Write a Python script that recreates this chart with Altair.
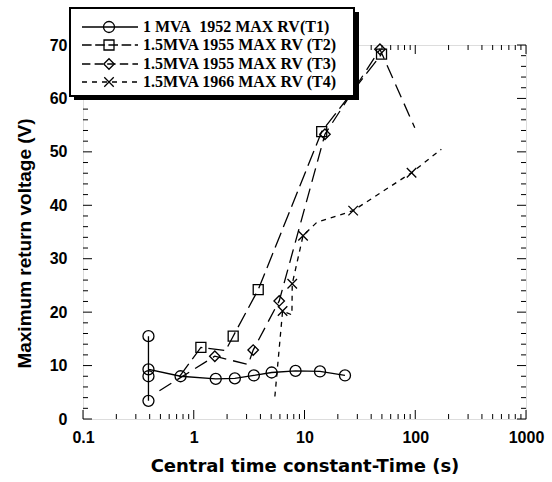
import altair as alt
import pandas as pd

# ---------------- data ----------------
# T1: 1 MVA 1952 (circles, solid)
t1_x = [0.39, 0.39, 0.39, 0.39, 0.76, 1.58, 2.35, 3.49, 5.05, 8.3, 13.8, 23.2]
t1_y = [15.5, 3.4, 8.0, 9.3, 8.0, 7.5, 7.6, 8.15, 8.7, 9.0, 8.9, 8.15]
t1_m = [1, 1, 1, 1, 1, 1, 1, 1, 1, 1, 1, 1]

# T2: 1.5MVA 1955 (squares, long dash)
t2_x = [0.74, 1.16, 1.94, 2.27, 3.82, 14.3, 49.6]
t2_y = [7.9, 13.4, 12.8, 15.5, 24.2, 53.8, 68.3]
t2_m = [0, 1, 0, 1, 1, 1, 1]

# T3: 1.5MVA 1955 (diamonds, long dash)
t3_x = [0.49, 1.55, 3.1, 3.44, 5.91, 15.3, 48.0, 99.0]
t3_y = [5.3, 11.75, 10.2, 12.9, 22.1, 53.3, 69.2, 54.5]
t3_m = [0, 1, 0, 1, 1, 1, 1, 0]

# T4: 1.5MVA 1966 (crosses, short dash)
t4_x = [5.4, 6.34, 7.7, 7.75, 9.7, 12.9, 27.5, 92.6, 172.0]
t4_y = [4.2, 20.2, 19.5, 25.3, 34.3, 36.8, 39.0, 46.1, 50.5]
t4_m = [0, 1, 0, 1, 1, 0, 1, 1, 0]

legend_labels = [
    "1 MVA\u00a0 1952 MAX RV(T1)",
    "1.5MVA 1955 MAX RV (T2)",
    "1.5MVA 1955 MAX RV (T3)",
    "1.5MVA 1966 MAX RV (T4)",
]

x_major = [0.1, 1, 10, 100, 1000]
x_minor = [k * 10.0 ** e for e in range(-1, 3) for k in range(2, 10)]
y_major = list(range(0, 71, 10))
y_minor = [v for v in range(0, 71, 2) if v % 10 != 0]

# ---------------- styling / layout ----------------
W, H = 443, 374
X_PATH = "M-1,-1L1,1M-1,1L1,-1"
SANS = "Liberation Sans"
SERIF = "Liberation Serif"

xscale = alt.Scale(type="log", domain=[0.1, 1000], nice=False)
yscale = alt.Scale(domain=[0, 70], nice=False)
xaxis = alt.Axis(values=x_major, format="~g", ticks=False, tickSize=0, domain=False,
                 grid=False, labelFontSize=16, labelFontWeight="bold", labelFont=SANS,
                 labelPadding=10, labelColor="black", labelFlush=False,
                 title="Central time constant-Time (s)", titleFontSize=18,
                 titleFontWeight="bold", titleFont="DejaVu Sans", titlePadding=12,
                 titleColor="black")
yaxis = alt.Axis(values=y_major, ticks=False, tickSize=0, domain=False, grid=False,
                 labelFontSize=16, labelFontWeight="bold", labelFont=SANS,
                 labelPadding=16, labelColor="black", labelFlush=False,
                 title="Maximum return voltage (V)", titleFontSize=19,
                 titleFontWeight="bold", titleFont=SANS, titlePadding=15,
                 titleY=198, titleColor="black")


def X():
    return alt.X("x:Q", scale=xscale, axis=xaxis)


def Y():
    return alt.Y("y:Q", scale=yscale, axis=yaxis)


series = [
    (t1_x, t1_y, t1_m, "circle", 121, None),
    (t2_x, t2_y, t2_m, "square", 100, [16, 6]),
    (t3_x, t3_y, t3_m, "diamond", 110, [14, 7]),
    (t4_x, t4_y, t4_m, X_PATH, 90, [5, 5]),
]

layers = []

# inner ticks (frame)
xt = pd.DataFrame({"x": x_major + x_minor,
                   "len": [9] * len(x_major) + [5] * len(x_minor)})
yt = pd.DataFrame({"y": y_major + y_minor,
                   "len": [9] * len(y_major) + [5] * len(y_minor)})
for dfk, ln in [(xt[xt["len"] == 9], 9), (xt[xt["len"] == 5], 5)]:
    layers.append(alt.Chart(dfk).mark_rule(color="black", strokeWidth=1).encode(
        x=X(), y=alt.value(H), y2=alt.value(H - ln)))
    layers.append(alt.Chart(dfk).mark_rule(color="black", strokeWidth=1).encode(
        x=X(), y=alt.value(0), y2=alt.value(ln)))
for dfk, ln in [(yt[yt["len"] == 9], 9), (yt[yt["len"] == 5], 5)]:
    layers.append(alt.Chart(dfk).mark_rule(color="black", strokeWidth=1).encode(
        y=Y(), x=alt.value(0), x2=alt.value(ln)))
    layers.append(alt.Chart(dfk).mark_rule(color="black", strokeWidth=1).encode(
        y=Y(), x=alt.value(W), x2=alt.value(W - ln)))

# data lines and markers
for xs, ys, ms, shape, size, dash in series:
    df = pd.DataFrame({"x": xs, "y": ys, "m": ms, "i": list(range(len(xs)))})
    line_kw = dict(color="black", strokeWidth=1.3)
    if dash is not None:
        line_kw["strokeDash"] = dash
    layers.append(alt.Chart(df).mark_line(**line_kw).encode(x=X(), y=Y(), order="i:Q"))
    layers.append(alt.Chart(df).transform_filter("datum.m == 1").mark_point(
        shape=shape, size=size, filled=False, color="black", strokeWidth=1.3, opacity=1
    ).encode(x=X(), y=Y()))

# legend box (drawn on top, with drop shadow)
one = pd.DataFrame({"k": [0]})
layers.append(alt.Chart(one).mark_rect(color="black").encode(
    x=alt.value(-9), x2=alt.value(276), y=alt.value(-33), y2=alt.value(55)))
layers.append(alt.Chart(one).mark_rect(fill="white", stroke="black", strokeWidth=2).encode(
    x=alt.value(-13), x2=alt.value(271), y=alt.value(-37), y2=alt.value(51)))

row_y = [-18, 0, 19, 37]
for (xs, ys, ms, shape, size, dash), label, ry in zip(series, legend_labels, row_y):
    rule_kw = dict(color="black", strokeWidth=1.3)
    if dash is not None:
        rule_kw["strokeDash"] = [d * 0.6 for d in dash] if dash[0] > 6 else dash
    layers.append(alt.Chart(one).mark_rule(**rule_kw).encode(
        x=alt.value(-1), x2=alt.value(55), y=alt.value(ry)))
    layers.append(alt.Chart(one).mark_point(
        shape=shape, size=size, filled=False, color="black", strokeWidth=1.3, opacity=1
    ).encode(x=alt.value(26), y=alt.value(ry)))
    layers.append(alt.Chart(pd.DataFrame({"label": [label]})).mark_text(
        align="left", baseline="middle", font=SERIF, fontSize=16, fontWeight="bold",
        color="black").encode(x=alt.value(60), y=alt.value(ry), text="label:N"))

chart = alt.layer(*layers).properties(
    width=W, height=H,
    padding={"left": 83, "top": 45, "right": 26, "bottom": 63},
    autosize=alt.AutoSizeParams(type="none"),
).configure_view(stroke="black", strokeWidth=1.5).configure(background="white")

chart.save("out.html", embed_options={"renderer": "svg", "actions": False})
